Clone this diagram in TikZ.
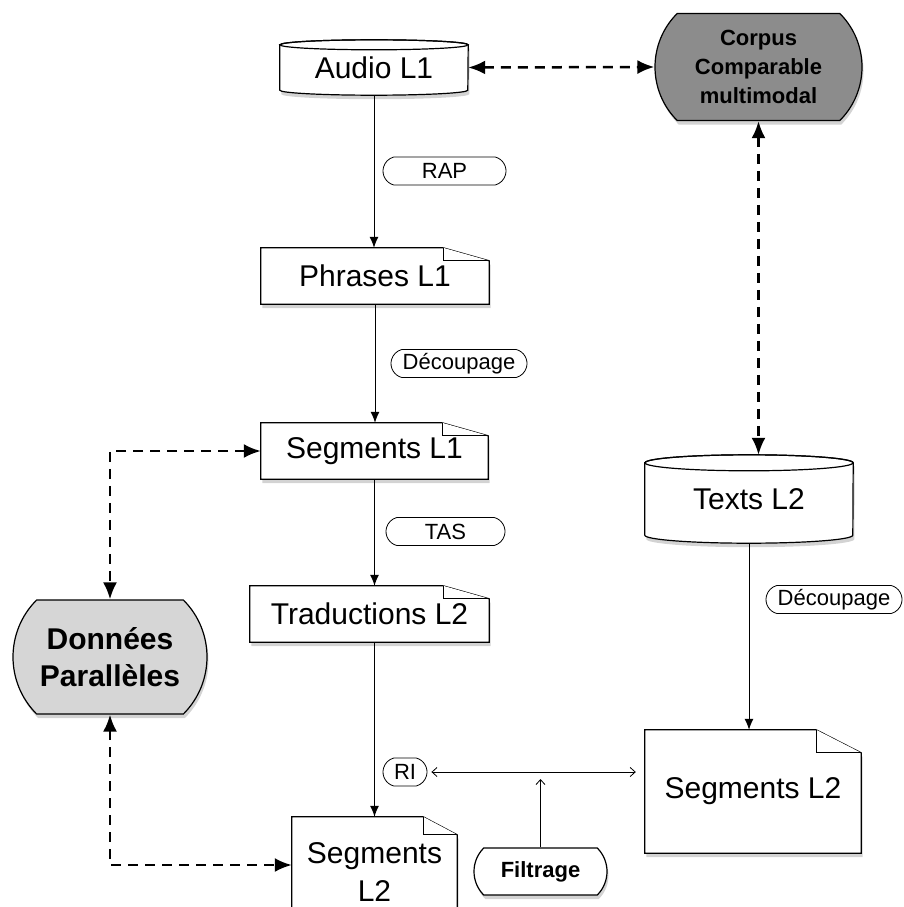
\documentclass[tikz,border=0pt]{standalone}
\usepackage{fontspec}
\setmainfont{Liberation Sans}
\usetikzlibrary{arrows.meta,backgrounds,shadows,shapes.misc}
\definecolor{corpusgray}{RGB}{140,140,140}
\definecolor{paragray}{RGB}{214,214,214}
\tikzset{
  shade box/.style={drop shadow={opacity=0.35,shadow xshift=1.5pt,shadow yshift=-4pt}},
  box/.style={inner sep=0pt,font=\fontsize{30}{38}\selectfont},
  page/.style={draw,line width=1.2pt,fill=white,shade box},
  page fold/.style={draw,line width=1pt,fill=white},
  store/.style={draw,line width=1.2pt,fill=white,shade box},
  store cap/.style={draw,line width=1.2pt},
  pill/.style={rounded rectangle,rounded rectangle arc length=90,draw,line width=1.2pt,inner sep=0pt,align=center,shade box},
  tag/.style={rounded rectangle,rounded rectangle arc length=150,draw,line width=0.8pt,fill=white,inner sep=0pt,minimum height=28pt,font=\fontsize{22}{26}\selectfont},
  link/.style={line width=1pt,-{Latex[length=11pt,width=9pt]}},
  dashlink/.style={line width=2.5pt,dash pattern=on 10pt off 7pt,{Latex[length=17pt,width=14pt]}-{Latex[length=17pt,width=14pt]}},
  thinlink/.style={line width=0.8pt,-{Straight Barb[length=5pt,width=9pt]}},
  thinboth/.style={line width=0.8pt,{Straight Barb[length=5pt,width=9pt]}-{Straight Barb[length=5pt,width=9pt]}},
}
\def\pageshape(#1)(#2:#3){%
  \draw[page] (#1.south west) -- (#1.north west) -- ([xshift=-#2]#1.north east) -- ([yshift=-#3]#1.north east) -- (#1.south east) -- cycle;
  \draw[page fold] ([xshift=-#2]#1.north east) |- ([yshift=-#3]#1.north east);}
\def\storeshape(#1)(#2:#3){%
  \draw[store] ([yshift=-#3]#1.north west) -- ([yshift=#3]#1.south west) arc[start angle=180,end angle=360,x radius=#2,y radius=#3] -- ([yshift=-#3]#1.north east) arc[start angle=0,end angle=180,x radius=#2,y radius=#3] -- cycle;
  \draw[store cap] ([yshift=-#3]#1.north) ellipse[x radius=#2,y radius=#3];}

\begin{document}
\begin{tikzpicture}[x=1pt,y=-1pt]
			%%%%% START %%%%%
			\useasboundingbox (0,0) rectangle (903,907);
			
			\node[box, minimum width=188pt, minimum height=55pt] (audio) at (374,67.5) {Audio L1};
			\node[box, minimum width=228pt, minimum height=56pt] (phrases) at (375,276) {Phrases L1};
			\node[box, minimum width=227pt, minimum height=56pt] (segsrc) at (374.5,451) {Segments L1};
			\node[box, minimum width=239pt, minimum height=56pt] (trad) at (369.5,614) {Traductions L2};
			\node[box, minimum width=165pt, minimum height=110pt, align=center] (segtgt) at (374.5,872) {Segments\\L2};
			\node[box, minimum width=208pt, minimum height=88pt] (texts) at (749,499) {Texts L2};
			\node[box, minimum width=216pt, minimum height=123pt] (segcmp) at (753,791.5) {Segments L2};
			
			\node[pill, fill=corpusgray, minimum width=207pt, minimum height=107pt, font=\fontsize{22}{29}\selectfont\bfseries] (corpus) at (758.5,67) {Corpus\\Comparable\\multimodal};
			\node[pill, fill=paragray, minimum width=194pt, minimum height=114pt, font=\fontsize{30}{37}\selectfont\bfseries] (para) at (110,657) {Données\\Parallèles};
			\node[pill, fill=white, minimum width=133pt, minimum height=47pt, font=\fontsize{22}{26}\selectfont\bfseries] (filtrage) at (540.5,871.5) {Filtrage};
			
			\node[tag, minimum width=123pt] (rap) at (444.5,171) {RAP};
			\node[tag, minimum width=136pt] (decsrc) at (459,363.5) {Découpage};
			\node[tag, minimum width=119pt] (tas) at (445.5,531.5) {TAS};
			\node[tag, minimum width=136pt] (deccmp) at (834,599.5) {Découpage};
			\node[tag, minimum width=44pt] (ri) at (405,772) {RI};
			
			\begin{scope}[on background layer]
			\storeshape(audio)(94pt:5pt)
			\storeshape(texts)(104pt:8pt)
			\pageshape(phrases)(46pt:13pt)
			\pageshape(segsrc)(46pt:13pt)
			\pageshape(trad)(46pt:13pt)
			\pageshape(segtgt)(34pt:18pt)
			\pageshape(segcmp)(45pt:23pt)
			\end{scope}
			
			\draw[link] (audio.south) -- (audio.south |- phrases.north);
			\draw[link] (phrases.south) -- (phrases.south |- segsrc.north);
			\draw[link] (segsrc.south) -- (segsrc.south |- trad.north);
			\draw[link] (segsrc.south |- trad.south) -- (segsrc.south |- segtgt.north);
			\draw[link] (texts.south) -- (texts.south |- segcmp.north);
			
			\draw[dashlink] (audio.east) -- (corpus.west);
			\draw[dashlink] (corpus.south) -- (corpus.south |- texts.north);
			\draw[dashlink] (segsrc.west) -| (para.north);
			\draw[dashlink] (para.south) |- ([yshift=7pt]segtgt.west);
			
			\coordinate (filtertip) at (540.5,779);
			\draw[thinboth, shorten <=4pt, shorten >=9pt] (ri.east) -- (ri.east -| segcmp.west);
			\draw[thinlink] (filtrage.north) -- (filtertip);
			
			%%%%% END %%%%%
\end{tikzpicture}
\end{document}
